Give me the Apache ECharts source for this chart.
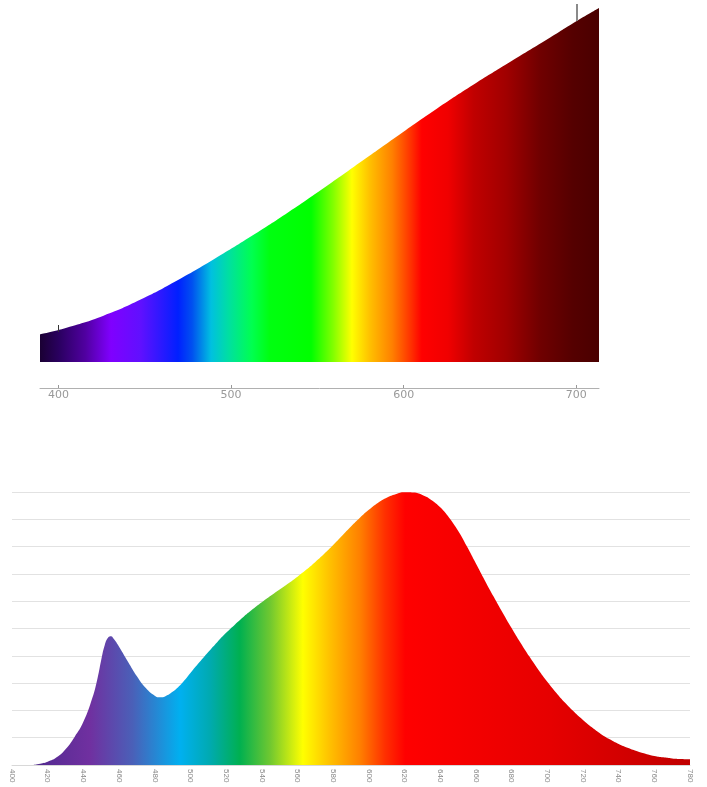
<!DOCTYPE html>
<html>
<head>
<meta charset="utf-8">
<script src="https://cdn.jsdelivr.net/npm/echarts@6/dist/echarts.min.js"></script>
<style>
html,body{margin:0;padding:0;background:#fff;}
#c{width:707px;height:787px;}
</style>
</head>
<body>
<div id="c"></div>
<script>
// ---- Top chart data (wavelength nm, relative intensity) ----
const topWavelengths = [389.3, 404.7, 426.1, 447.6, 469.0, 490.5, 511.9, 533.4, 554.8, 576.3, 597.7, 619.2, 640.6, 662.1, 683.5, 700.3, 713.2];
const topValues      = [27.7, 34.3, 46.3, 62.4, 81.7, 103.2, 125.9, 150.0, 175.3, 201.5, 227.6, 253.3, 277.5, 300.5, 323.0, 341.0, 354.0];
const topTickLabels  = [400, 500, 600, 700];

// ---- Bottom chart data ----
const bottomWavelengths = [400,405,410,415,420,425,430,435,440,445,448,450,452,454,455.5,457,460,465,470,475,480,483,486,490,495,500,505,510,515,520,525,530,535,540,545,550,555,560,565,570,575,580,585,590,595,600,605,610,615,620,625,630,635,640,645,650,655,660,665,670,675,680,685,690,695,700,705,710,715,720,725,730,735,740,745,750,755,760,765,770,775,780];
const bottomValues = [0,0,0,0.04,0.12,0.28,0.58,1.02,1.58,2.45,3.20,3.85,4.40,4.68,4.72,4.62,4.33,3.78,3.25,2.82,2.54,2.48,2.52,2.68,2.98,3.37,3.76,4.14,4.50,4.84,5.15,5.44,5.71,5.96,6.20,6.43,6.66,6.90,7.16,7.44,7.74,8.06,8.40,8.74,9.06,9.35,9.60,9.79,9.92,9.99,9.98,9.89,9.71,9.44,9.06,8.58,8.00,7.38,6.76,6.16,5.58,5.02,4.48,3.97,3.49,3.05,2.65,2.28,1.95,1.65,1.38,1.14,0.94,0.77,0.63,0.51,0.41,0.33,0.28,0.24,0.22,0.21];
const bottomTickMin = 400, bottomTickMax = 780, bottomTickStep = 20;

const chart = echarts.init(document.getElementById('c'), null, {renderer:'canvas'});

const topStops = [
  [0.000,'#1a0033'],[0.034,'#2a0060'],[0.081,'#5000a0'],[0.127,'#8000ff'],
  [0.180,'#6010ff'],[0.247,'#0020ff'],[0.272,'#0050f0'],[0.306,'#00c0e0'],
  [0.338,'#00e0a0'],[0.379,'#00ff50'],[0.411,'#00ff10'],[0.485,'#00ff00'],
  [0.524,'#80ff00'],[0.558,'#ffff00'],[0.590,'#ffc000'],[0.630,'#ff8000'],
  [0.664,'#ff3000'],[0.683,'#ff0000'],[0.730,'#f00000'],[0.776,'#c00000'],
  [0.835,'#a00000'],[0.894,'#700000'],[0.953,'#550000'],[1.000,'#4a0000']
].map(s=>({offset:s[0],color:s[1]}));

const botStops = [
  [0.000,'#40287a'],[0.056,'#5a2c95'],[0.115,'#7030a0'],[0.178,'#4a60b8'],
  [0.248,'#00b0f0'],[0.292,'#00aab0'],[0.336,'#00b050'],[0.381,'#70c830'],
  [0.429,'#ffff00'],[0.469,'#ffc000'],[0.513,'#ff8000'],[0.550,'#ff3000'],
  [0.580,'#ff0000'],[0.794,'#e60000'],[1.000,'#c00000']
].map(s=>({offset:s[0],color:s[1]}));

const option = {
  animation:false,
  backgroundColor:'#ffffff',
  grid:[
    {left:40, width:559, top:2, height:360},
    {left:12, width:678, top:492, height:273}
  ],
  xAxis:[
    {gridIndex:0, type:'value', min:389.3, max:713.2, offset:26,
     axisLine:{show:true, onZero:false, lineStyle:{color:'#b0b0b0', width:1}},
     axisTick:{show:true, inside:true, length:3, customValues:topTickLabels, lineStyle:{color:'#999'}},
     axisLabel:{show:true, customValues:topTickLabels, color:'#999999', fontSize:11, margin:2, fontFamily:'DejaVu Sans'},
     splitLine:{show:false}},
    {gridIndex:1, type:'value', min:bottomTickMin, max:bottomTickMax, interval:bottomTickStep,
     axisLine:{show:true, onZero:false, lineStyle:{color:'#d8d8d8', width:1}},
     axisTick:{show:false},
     axisLabel:{show:true, rotate:-90, color:'#888888', fontSize:8, margin:4, fontFamily:'Liberation Sans'},
     splitLine:{show:false}}
  ],
  yAxis:[
    {gridIndex:0, type:'value', min:0, max:360, show:false},
    {gridIndex:1, type:'value', min:0, max:10, interval:1,
     axisLine:{show:false}, axisTick:{show:false}, axisLabel:{show:false},
     splitLine:{show:true, lineStyle:{color:'#e2e2e2', width:1}}}
  ],
  series:[
    {type:'line', xAxisIndex:0, yAxisIndex:0, smooth:0.5, symbol:'none',
     data: topWavelengths.map((w,i)=>[w, topValues[i]]),
     lineStyle:{width:0},
     areaStyle:{opacity:1, color:new echarts.graphic.LinearGradient(40,0,599,0, topStops, true)},
     markLine:{silent:true, symbol:'none', label:{show:false},
       data:[
         [{coord:[400,30], lineStyle:{color:'#333', width:1, type:'solid'}},{coord:[400,37]}],
         [{coord:[700.3,341], lineStyle:{color:'#8a8a8a', width:2, type:'solid'}},{coord:[700.3,358]}]
       ]}
    },
    {type:'line', xAxisIndex:1, yAxisIndex:1, smooth:0.5, symbol:'none',
     data: bottomWavelengths.map((w,i)=>[w, bottomValues[i]]),
     lineStyle:{width:0},
     areaStyle:{opacity:1, color:new echarts.graphic.LinearGradient(12,0,690,0, botStops, true)}
    }
  ]
};
chart.setOption(option);
</script>
</body>
</html>
